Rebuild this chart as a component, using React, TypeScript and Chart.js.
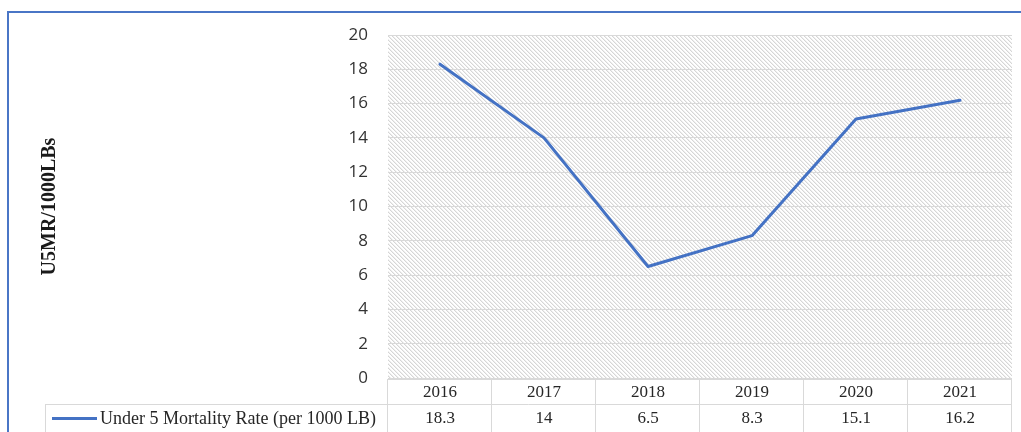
import React, { useEffect, useRef } from "react";
import { Chart, registerables } from "chart.js";

Chart.register(...registerables);

const categories = ["2016", "2017", "2018", "2019", "2020", "2021"];
const mortalityRate = [18.3, 14, 6.5, 8.3, 15.1, 16.2];
const seriesLabel = "Under 5 Mortality Rate (per 1000 LB)";
const yAxisTitle = "U5MR/1000LBs";
const yMin = 0;
const yMax = 20;
const yStep = 2;

const LINE_COLOR = "#4472C4";
const TABLE_LINE = "#d9d9d9";
const TEXT_COLOR = "#262626";
const SERIF = "'Liberation Serif', 'Times New Roman', serif";

function makeHatch(ctx: CanvasRenderingContext2D) {
  const c = document.createElement("canvas");
  c.width = 4;
  c.height = 4;
  const g = c.getContext("2d")!;
  g.fillStyle = "#ffffff";
  g.fillRect(0, 0, 4, 4);
  for (let i = 0; i < 4; i++) {
    g.fillStyle = "#d6d6d6";
    g.fillRect(i, i, 1, 1);
    g.fillStyle = "#efefef";
    g.fillRect((i + 1) % 4, i, 1, 1);
  }
  return ctx.createPattern(c, "repeat");
}

const backgroundPlugin = {
  id: "bgHatch",
  beforeDraw(chart: any) {
    const { ctx, chartArea, width, height } = chart;
    ctx.save();
    ctx.fillStyle = "#ffffff";
    ctx.fillRect(0, 0, width, height);
    // frame
    ctx.fillStyle = "#4a76c6";
    ctx.fillRect(7, 11, width - 7, 2);
    ctx.fillRect(7, 11, 2, height - 11);
    const pat = makeHatch(ctx);
    if (pat) {
      ctx.fillStyle = pat;
      ctx.fillRect(
        chartArea.left,
        chartArea.top,
        chartArea.right - chartArea.left,
        chartArea.bottom - chartArea.top
      );
    }
    ctx.restore();
  },
};

const tablePlugin = {
  id: "dataTable",
  afterDraw(chart: any) {
    const { ctx, chartArea, height } = chart;
    const xs = chart.scales.x;
    const n = categories.length;
    const left = chartArea.left;
    const right = chartArea.right;
    const colW = (right - left) / n;
    const top = chartArea.bottom + 1;
    const rowH = 25;
    const row2 = top + rowH;
    const legendLeft = 45;
    ctx.save();
    ctx.strokeStyle = TABLE_LINE;
    ctx.lineWidth = 1;
    ctx.beginPath();
    ctx.moveTo(left, top + 0.5);
    ctx.lineTo(right, top + 0.5);
    ctx.moveTo(legendLeft, row2 + 0.5);
    ctx.lineTo(right, row2 + 0.5);
    for (let i = 0; i <= n; i++) {
      const x = Math.round(left + i * colW) - 0.5;
      ctx.moveTo(x, top);
      ctx.lineTo(x, height);
    }
    ctx.moveTo(legendLeft + 0.5, row2);
    ctx.lineTo(legendLeft + 0.5, height);
    ctx.stroke();

    ctx.fillStyle = TEXT_COLOR;
    ctx.font = `17px ${SERIF}`;
    ctx.textAlign = "center";
    ctx.textBaseline = "middle";
    for (let i = 0; i < n; i++) {
      const cx = xs.getPixelForValue(i);
      ctx.fillText(categories[i], cx, top + rowH / 2 + 1);
      ctx.fillText(String(mortalityRate[i]), cx, row2 + 15);
    }
    const ly = row2 + 14.5;
    ctx.strokeStyle = LINE_COLOR;
    ctx.lineWidth = 3;
    ctx.beginPath();
    ctx.moveTo(52, ly);
    ctx.lineTo(97, ly);
    ctx.stroke();
    ctx.font = `18px ${SERIF}`;
    ctx.textAlign = "left";
    ctx.fillStyle = TEXT_COLOR;
    ctx.fillText(seriesLabel, 100, row2 + 15);
    ctx.restore();
  },
};

export default function App() {
  const ref = useRef<HTMLCanvasElement | null>(null);
  useEffect(() => {
    if (!ref.current) return;
    const chart = new Chart(ref.current, {
      type: "line",
      data: {
        labels: categories,
        datasets: [
          {
            label: seriesLabel,
            data: mortalityRate,
            borderColor: LINE_COLOR,
            backgroundColor: LINE_COLOR,
            borderWidth: 3,
            pointRadius: 0,
            pointHoverRadius: 0,
            tension: 0,
            borderCapStyle: "round",
            borderJoinStyle: "round",
            fill: false,
          },
        ],
      },
      options: {
        responsive: false,
        animation: false,
        devicePixelRatio: 1,
        layout: { padding: { left: 34, right: 9, top: 35, bottom: 54 } },
        plugins: {
          legend: { display: false },
          tooltip: { enabled: false },
        },
        scales: {
          x: {
            type: "category",
            display: false,
            offset: true,
          },
          y: {
            min: yMin,
            max: yMax,
            ticks: {
              stepSize: yStep,
              padding: 20,
              color: "#333333",
              font: { family: "'Open Sans', sans-serif", size: 17 },
            },
            grid: {
              color: "#d9d9d9",
              lineWidth: 1,
              drawTicks: false,
            },
            border: { display: false },
            title: {
              display: true,
              text: yAxisTitle,
              color: "#1a1a1a",
              font: { family: SERIF, size: 20, weight: "bold" },
            },
            afterFit(scale: any) {
              scale.width = 354;
            },
          },
        },
      },
      plugins: [backgroundPlugin, tablePlugin],
    } as any);
    return () => chart.destroy();
  }, []);
  return (
    <div style={{ position: "absolute", left: 0, top: 0, width: 1021, height: 432 }}>
      <canvas ref={ref} width={1021} height={432} style={{ display: "block", width: 1021, height: 432 }} />
    </div>
  );
}
